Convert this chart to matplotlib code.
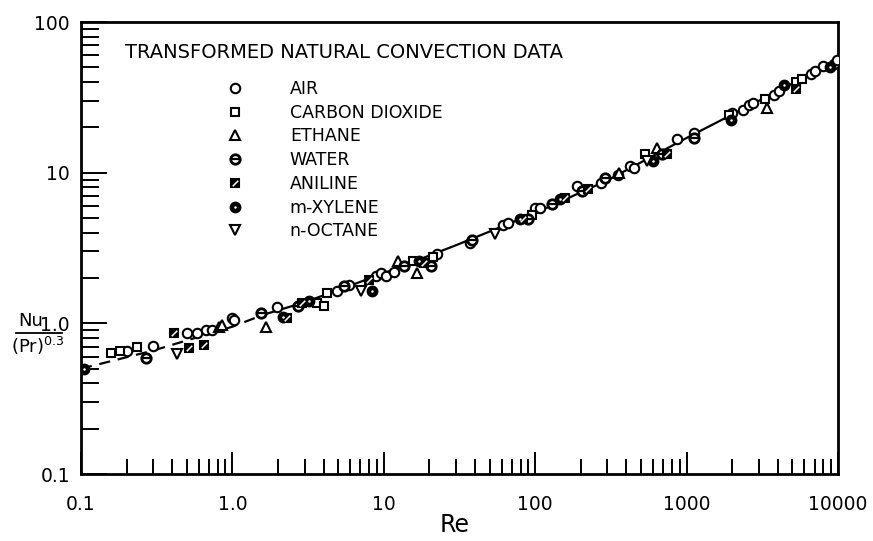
import matplotlib
matplotlib.use("Agg")
import matplotlib.pyplot as plt
from matplotlib.path import Path
from matplotlib.ticker import FixedLocator, FixedFormatter, NullFormatter
from matplotlib.legend_handler import HandlerTuple
from matplotlib.lines import Line2D
import numpy as np

# ---------------- data ----------------
air_re = [0.2, 0.3, 0.5, 0.58, 0.67, 0.73, 1.0, 1.03, 1.98, 4.9, 5.9, 8.9, 9.6, 10.4, 11.7,
          22.5, 37, 61, 66, 100, 107, 190, 270, 350, 420, 450, 870, 1120, 2000, 2350,
          2600, 2750, 3800, 4100, 6600, 7000, 8000, 9400, 9800]
air_nu = [0.66, 0.71, 0.86, 0.86, 0.90, 0.91, 1.08, 1.06, 1.29, 1.65, 1.8, 2.05, 2.15, 2.05, 2.2,
          2.9, 3.4, 4.5, 4.6, 5.8, 5.8, 8.2, 8.6, 9.6, 11.0, 10.8, 16.8, 18.4, 25, 26,
          28, 29, 33, 35, 45, 47, 51, 53, 56]

co2_re = [0.158, 0.18, 0.235, 3.6, 4.0, 4.2, 15.5, 21, 95, 530, 1900, 3300, 5300, 5800]
co2_nu = [0.64, 0.66, 0.70, 1.37, 1.3, 1.6, 2.6, 2.75, 5.2, 13.3, 24, 31, 40, 42]

ethane_re = [0.81, 0.85, 1.66, 12.5, 16.5, 360, 640, 3400]
ethane_nu = [0.94, 0.98, 0.94, 2.6, 2.15, 10.0, 14.5, 27]

water_re = [0.27, 1.55, 2.7, 5.5, 13.7, 20.5, 38.5, 89, 130, 205, 290, 690, 1120]
water_nu = [0.59, 1.18, 1.3, 1.77, 2.4, 2.4, 3.55, 4.9, 6.2, 7.6, 9.2, 13.3, 17.0]

aniline_re = [0.41, 0.52, 0.65, 2.3, 2.9, 8.0, 18.5, 83, 157, 222, 740, 5300]
aniline_nu = [0.86, 0.69, 0.72, 1.08, 1.37, 1.94, 2.5, 4.9, 6.8, 7.8, 13.3, 36]

xylene_re = [0.105, 2.15, 3.2, 8.3, 17, 79, 145, 600, 1950, 4400, 8800]
xylene_nu = [0.50, 1.10, 1.40, 1.65, 2.6, 4.9, 6.7, 12.0, 22.5, 38, 50]

octane_re = [0.43, 7.1, 54, 550]
octane_nu = [0.63, 1.65, 3.9, 12.0]

# correlation curve
dash_re = [0.1, 0.3, 1.0, 1.6]
dash_nu = [0.5, 0.66, 0.95, 1.14]
solid_re = [1.6, 3, 10, 30, 100, 300, 1000, 3000, 10000]
solid_nu = [1.14, 1.38, 2.15, 3.3, 5.4, 8.9, 17.0, 30.0, 56.0]

x_ticks = [0.1, 1, 10, 100, 1000, 10000]
x_labels = ["0.1", "1.0", "10", "100", "1000", "10000"]
y_ticks = [0.1, 1, 10, 100]
y_labels = ["0.1", "1.0", "10", "100"]

legend_labels = ["AIR", "CARBON DIOXIDE", "ETHANE", "WATER", "ANILINE", "m-XYLENE", "n-OCTANE"]
title_text = "TRANSFORMED NATURAL CONVECTION DATA"

# ---------------- figure ----------------
plt.rcParams['font.family'] = ['DejaVu Sans']
fig = plt.figure(figsize=(8.73, 5.41), dpi=100)
ax = fig.add_axes([81/873, 67/541, 757/873, 452/541])
ax.set_xscale('log')
ax.set_yscale('log')
ax.set_xlim(0.1, 10000)
ax.set_ylim(0.1, 100)

ax.plot(dash_re, dash_nu, color='black', lw=1.6, ls=(0, (5, 3.5)), zorder=2)
ax.plot(solid_re, solid_nu, color='black', lw=1.6, zorder=2)

ms = 6.8
mew = 1.5
slash = Path([(-0.5, -0.5), (0.5, 0.5)], [Path.MOVETO, Path.LINETO])
hbar = Path([(-0.5, 0.0), (0.5, 0.0)], [Path.MOVETO, Path.LINETO])

h_air, = ax.plot(air_re, air_nu, ls='none', marker='o', ms=ms, mfc='white', mec='black', mew=mew, zorder=3)
h_co2, = ax.plot(co2_re, co2_nu, ls='none', marker='s', ms=ms-0.5, mfc='white', mec='black', mew=mew, zorder=3)
h_eth, = ax.plot(ethane_re, ethane_nu, ls='none', marker='^', ms=ms, mfc='white', mec='black', mew=mew, zorder=3)
h_wat1, = ax.plot(water_re, water_nu, ls='none', marker='o', ms=ms, mfc='white', mec='black', mew=mew+0.5, zorder=3)
h_wat2, = ax.plot(water_re, water_nu, ls='none', marker=hbar, ms=ms-1.5, mfc='none', mec='black', mew=1.6, zorder=3.1)
h_ani1, = ax.plot(aniline_re, aniline_nu, ls='none', marker='s', ms=ms-0.5, mfc='black', mec='black', mew=mew, zorder=3)
h_ani2, = ax.plot(aniline_re, aniline_nu, ls='none', marker=slash, ms=ms-2.8, mfc='none', mec='white', mew=1.1, zorder=3.1)
h_xyl1, = ax.plot(xylene_re, xylene_nu, ls='none', marker='o', ms=ms+0.2, mfc='black', mec='black', mew=mew, zorder=3)
h_xyl2, = ax.plot(xylene_re, xylene_nu, ls='none', marker='o', ms=1.8, mfc='white', mec='white', mew=0, zorder=3.1)
h_oct, = ax.plot(octane_re, octane_nu, ls='none', marker='v', ms=ms, mfc='white', mec='black', mew=mew, zorder=3)

handles = [h_air, h_co2, h_eth, (h_wat1, h_wat2), (h_ani1, h_ani2), (h_xyl1, h_xyl2), h_oct]
leg = ax.legend(handles, legend_labels, loc='upper left',
                bbox_to_anchor=((226.5 - 81) / 757, (474 - 80) / 452),
                frameon=False, fontsize=12.5, handlelength=1.0, handletextpad=2.65,
                labelspacing=0.33, borderaxespad=0, borderpad=0,
                handler_map={tuple: HandlerTuple(ndivide=1)})

ax.text((125 - 81) / 757, (474 - 53) / 452, title_text, transform=ax.transAxes,
        fontsize=14, ha='left', va='center')

# ticks
ax.xaxis.set_major_locator(FixedLocator(x_ticks))
ax.xaxis.set_major_formatter(FixedFormatter(x_labels))
ax.yaxis.set_major_locator(FixedLocator(y_ticks))
ax.yaxis.set_major_formatter(FixedFormatter(y_labels))
ax.xaxis.set_minor_formatter(NullFormatter())
ax.yaxis.set_minor_formatter(NullFormatter())
ax.tick_params(axis='both', which='both', direction='in', top=False, right=False, width=1.4, colors='black')
ax.tick_params(axis='x', which='major', length=16, pad=15, labelsize=13.5)
ax.tick_params(axis='x', which='minor', length=11)
ax.tick_params(axis='y', which='major', length=19, pad=8, labelsize=13.5)
ax.tick_params(axis='y', which='minor', length=13)
for sp in ax.spines.values():
    sp.set_linewidth(2.0)

# axis labels
fig.text(455 / 873, 1 - 525 / 541, "Re", fontsize=17, ha='center', va='center')
fig.text(31 / 873, 1 - 321 / 541, "Nu", fontsize=13, ha='center', va='center')
fig.text(38 / 873, 1 - 346 / 541, r"(Pr)$^{0.3}$", fontsize=13, ha='center', va='center')
fig.add_artist(Line2D([16 / 873, 62 / 873], [1 - 333 / 541, 1 - 333 / 541], color='black', lw=1.3))

fig.savefig("out.png", dpi=100)
